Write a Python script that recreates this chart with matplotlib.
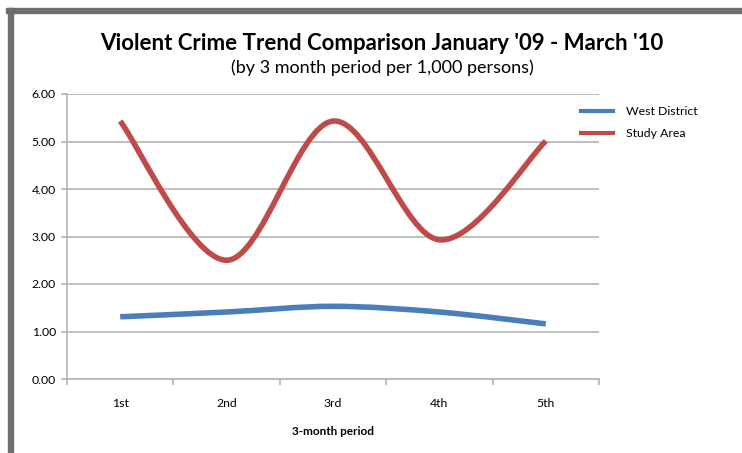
import matplotlib
matplotlib.use("Agg")
import matplotlib.pyplot as plt
import numpy as np
from matplotlib.patches import PathPatch, Rectangle
from matplotlib.path import Path
from matplotlib.lines import Line2D

# ── data ──────────────────────────────────────────────────────────────────────

periods = ["1st", "2nd", "3rd", "4th", "5th"]
west_district = [1.31, 1.41, 1.53, 1.41, 1.16]
study_area = [5.43, 2.50, 5.43, 2.93, 5.01]

BLUE = "#4a7ebb"
RED = "#be4b48"
GRID = "#b4b4b4"
FRAME = "#6e6e6e"

plt.rcParams["font.family"] = ["Lato", "DejaVu Sans"]


def smooth_path(xs, ys, tension=1 / 6):
    """Bezier path through the points, spreadsheet-style smoothing."""
    pts = np.column_stack([xs, ys]).astype(float)
    verts = [pts[0]]
    codes = [Path.MOVETO]
    n = len(pts)
    for i in range(n - 1):
        p0 = pts[i - 1] if i > 0 else pts[i]
        p1 = pts[i]
        p2 = pts[i + 1]
        p3 = pts[i + 2] if i + 2 < n else pts[i + 1]
        c1 = p1 + (p2 - p0) * tension
        c2 = p2 - (p3 - p1) * tension
        verts += [c1, c2, p2]
        codes += [Path.CURVE4] * 3
    return Path(verts, codes)


fig = plt.figure(figsize=(7.42, 4.53), dpi=100)
W, H = 742, 453

# grey frame along the top and left edges
fig.patches.append(Rectangle((6 / W, 1 - 13 / H), 1, 5 / H,
                             transform=fig.transFigure, color=FRAME, zorder=0))
fig.patches.append(Rectangle((8 / W, 0), 5 / W, 1 - 8 / H,
                             transform=fig.transFigure, color=FRAME, zorder=0))

ax = fig.add_axes([67 / W, 1 - 379 / H, 532 / W, 285 / H])
x = np.arange(len(periods))

for vals, color in ((west_district, BLUE), (study_area, RED)):
    patch = PathPatch(smooth_path(x, vals), facecolor="none", edgecolor=color,
                      linewidth=4.0, capstyle="butt", joinstyle="round", zorder=3)
    ax.add_patch(patch)

ax.set_xlim(-0.5, len(periods) - 0.5)
ax.set_ylim(0, 6)
ax.set_yticks(np.arange(0, 7, 1))
ax.set_yticklabels([f"{v:.2f}" for v in np.arange(0, 7, 1)], fontsize=8.8)
ax.set_xticks(x)
ax.set_xticklabels(periods, fontsize=8.8)
ax.set_xticks(np.arange(-0.5, len(periods)), minor=True)
ax.tick_params(axis="x", which="major", length=0, pad=14)
ax.tick_params(axis="x", which="minor", length=4, color=GRID, width=1.2)
ax.tick_params(axis="y", length=4, color=GRID, width=1.2, pad=4)

ax.grid(axis="y", color=GRID, linewidth=1.2)
ax.set_axisbelow(True)
for side in ("top", "right"):
    ax.spines[side].set_visible(False)
for side in ("left", "bottom"):
    ax.spines[side].set_color(GRID)
    ax.spines[side].set_linewidth(1.2)

ax.set_xlabel("3-month period", fontsize=8.5, fontweight="bold", labelpad=12)

handles = [Line2D([], [], color=BLUE, linewidth=3),
           Line2D([], [], color=RED, linewidth=3)]
fig.legend(handles, ["West District", "Study Area"], loc="upper left",
           bbox_to_anchor=(570 / W, 1 - 95 / H), frameon=False, fontsize=8.8,
           handlelength=2.6, handletextpad=1.1, labelspacing=0.9)

fig.text(382 / W, 1 - 43 / H, "Violent Crime Trend Comparison January '09 - March '10",
         ha="center", va="center", fontsize=16, fontweight="bold")
fig.text(382 / W, 1 - 68 / H, "(by 3 month period per 1,000 persons)",
         ha="center", va="center", fontsize=13)

fig.savefig("out.png", dpi=100)
